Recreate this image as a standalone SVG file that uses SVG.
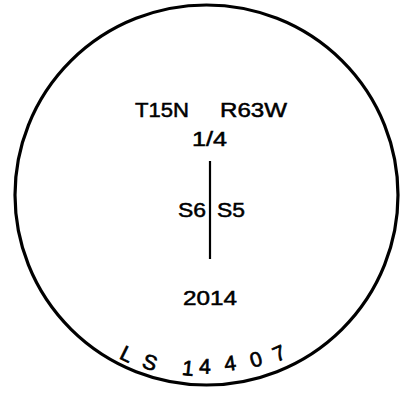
<svg xmlns="http://www.w3.org/2000/svg" width="412" height="393" viewBox="0 0 412 393">
<style>
text{font-family:"Liberation Sans",Arial,sans-serif;font-size:20px;fill:#000;stroke:#000;stroke-width:0.5}
.c{text-anchor:middle;font-size:21px;stroke-width:0.7}
.ln{stroke:#000;fill:none}
</style>
<rect width="412" height="393" fill="#fff"/>
<g id="outline">
<ellipse class="ln" cx="206.5" cy="195" rx="191.5" ry="190" stroke-width="3.2"/>
</g>
<g id="connectors">
<line class="ln" x1="210" y1="161" x2="210" y2="259" stroke-width="2.2"/>
</g>
<g id="labels">
<text x="135" y="117" textLength="54" lengthAdjust="spacingAndGlyphs">T15N</text>
<text x="220" y="117" textLength="67" lengthAdjust="spacingAndGlyphs">R63W</text>
<text x="192" y="146" textLength="35" lengthAdjust="spacingAndGlyphs">1/4</text>
<text x="178" y="217" textLength="28" lengthAdjust="spacingAndGlyphs">S6</text>
<text x="217" y="217" textLength="28" lengthAdjust="spacingAndGlyphs">S5</text>
<text x="183" y="305" textLength="54" lengthAdjust="spacingAndGlyphs">2014</text>
</g>
<g id="stamp">
<text class="c" transform="translate(127,354) rotate(26.4)" y="7.5">L</text>
<text class="c" transform="translate(150,362) rotate(18.6)" y="7.5">S</text>
<text class="c" transform="translate(188,368) rotate(6.2)" y="7.5">1</text>
<text class="c" transform="translate(205,366) rotate(0.7)" y="7.5">4</text>
<text class="c" transform="translate(230,363) rotate(-8)" y="7.5">4</text>
<text class="c" transform="translate(256,359) rotate(-17)" y="7.5">0</text>
<text class="c" transform="translate(279,353) rotate(-24.3)" y="7.5">7</text>
</g>
</svg>
